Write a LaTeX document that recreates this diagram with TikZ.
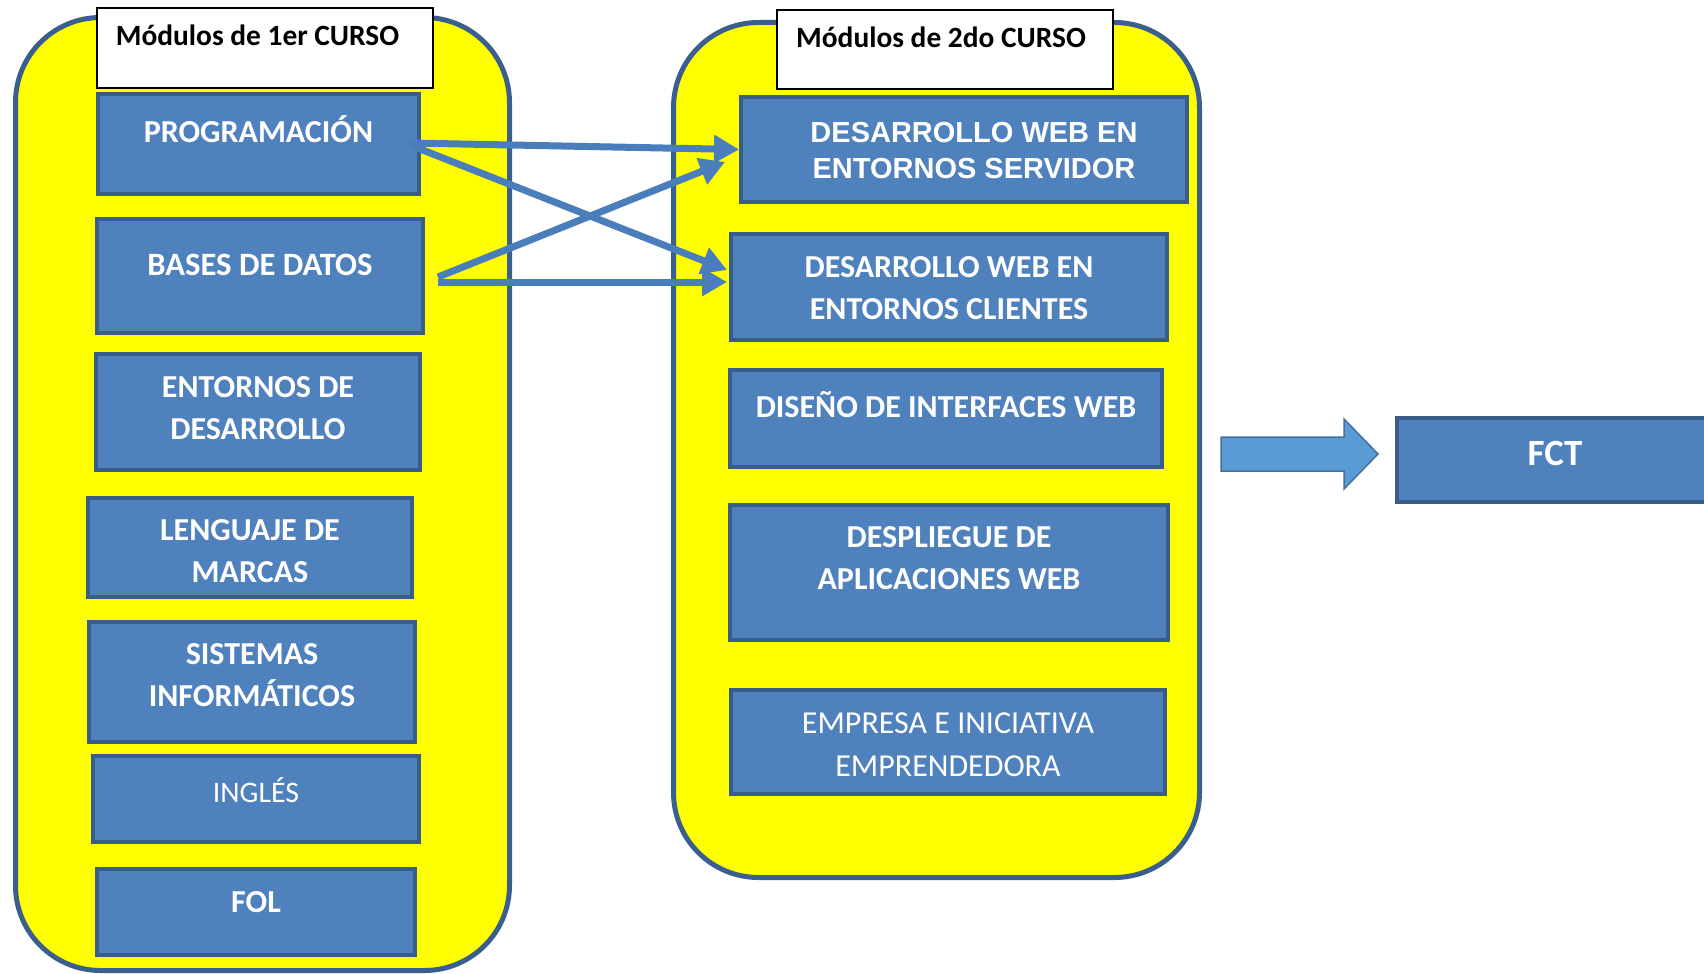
\documentclass[tikz,border=0pt]{standalone}
\usepackage{fontspec}
\setmainfont{Carlito}
\newfontfamily\arialf{Liberation Sans}
\usetikzlibrary{arrows.meta,calc}
\definecolor{contfill}{HTML}{FFFF00}
\definecolor{boxfill}{HTML}{4F81BD}
\definecolor{boxline}{HTML}{385D8A}
\definecolor{contline}{HTML}{3A5F8E}
\definecolor{arrcol}{HTML}{4A7EBB}
\definecolor{bigfill}{HTML}{5B9BD5}
\definecolor{bigline}{HTML}{41719C}
% #1 horizontal shift, #2 raise of first baseline above node centre, #3 text
\newcommand\tx[3]{\raisebox{#2}[0pt][0pt]{\makebox[0pt]{\kern#1\relax\kern#1\relax #3}}}
\newcommand\twol[2]{\vtop{\halign{\hfil##\hfil\cr #1\cr #2\cr}}}
\begin{document}
\begin{tikzpicture}[x=0.5pt,y=-0.5pt,
  cont/.style={draw=contline, line width=2.5pt, fill=contfill, rounded corners=42.5pt, inner sep=0pt},
  ttl/.style={draw=black, line width=1pt, fill=white, inner sep=0pt, font=\fontsize{14.7pt}{17pt}\selectfont\bfseries, text=black},
  mod/.style={draw=boxline, line width=2pt, fill=boxfill, inner sep=0pt, text=white, font=\fontsize{16pt}{21pt}\selectfont\bfseries},
  modr/.style={mod, font=\fontsize{16pt}{21.5pt}\selectfont\mdseries},
  moda/.style={mod, font=\arialf\fontsize{14.5pt}{17.5pt}\selectfont\bfseries},
  conn/.style={draw=arrcol, line width=3.5pt, -{Triangle[length=12.5pt,width=13.5pt]}},
]
\clip (0,0) rectangle (1704,974);
% containers
\node[cont, minimum width=247pt, minimum height=476.5pt] (year1) at (262.5,494) {};
\node[cont, minimum width=263pt, minimum height=427.5pt] (year2) at (936.5,450) {};
% titles
\node[ttl, minimum width=168pt, minimum height=40pt] (t1) at (265,48) {\tx{-3.75pt}{1pt}{Módulos de 1er CURSO}};
\node[ttl, minimum width=168pt, minimum height=39.5pt] (t2) at (945,49.5) {\tx{-2pt}{0.75pt}{Módulos de 2do CURSO}};
% first year
\node[mod, minimum width=160.5pt, minimum height=50pt] (prog) at (258.5,144) {\tx{0pt}{0.5pt}{PROGRAMACIÓN}};
\node[mod, minimum width=163pt, minimum height=57pt, font=\fontsize{16.3pt}{21pt}\selectfont\bfseries] (bd) at (260,276) {\tx{0pt}{0.5pt}{BASES DE DATOS}};
\node[mod, minimum width=162pt, minimum height=58pt] (ed) at (258,412) {\tx{0pt}{7.5pt}{\twol{ENTORNOS DE}{DESARROLLO}}};
\node[mod, minimum width=162pt, minimum height=49.5pt] (lm) at (250,547.5) {\tx{0pt}{3.75pt}{\twol{LENGUAJE DE}{MARCAS}}};
\node[mod, minimum width=163pt, minimum height=60pt] (si) at (252,682) {\tx{0pt}{9pt}{\twol{SISTEMAS}{INFORMÁTICOS}}};
\node[modr, minimum width=163pt, minimum height=43pt, font=\fontsize{14.9pt}{18pt}\selectfont\mdseries] (ing) at (256,799) {\tx{0pt}{-1.5pt}{INGLÉS}};
\node[mod, minimum width=159pt, minimum height=43pt] (fol) at (256,912) {\tx{0pt}{0pt}{FOL}};
% second year
\node[moda, minimum width=223pt, minimum height=52.5pt] (dwes) at (964,149.5) {\tx{5pt}{3.25pt}{\twol{DESARROLLO WEB EN}{ENTORNOS SERVIDOR}}};
\node[mod, minimum width=218pt, minimum height=53pt] (dwec) at (949,287) {\tx{0pt}{5pt}{\twol{DESARROLLO WEB EN}{ENTORNOS CLIENTES}}};
\node[mod, minimum width=216pt, minimum height=48.5pt] (diw) at (946,418.5) {\tx{0pt}{0.75pt}{DISEÑO DE INTERFACES WEB}};
\node[mod, minimum width=219pt, minimum height=67.5pt] (daw) at (949,572.5) {\tx{0pt}{12.75pt}{\twol{DESPLIEGUE DE}{APLICACIONES WEB}}};
\node[modr, minimum width=217pt, minimum height=52pt] (eie) at (948,742) {\tx{0pt}{4.5pt}{\twol{EMPRESA E INICIATIVA}{EMPRENDEDORA}}};
% FCT
\node[mod, minimum width=158pt, minimum height=42pt, font=\fontsize{18.5pt}{21pt}\selectfont\bfseries] (fct) at (1555,460) {\tx{0pt}{-2.5pt}{FCT}};
% block arrow
\draw[draw=bigline, fill=bigfill, line width=0.75pt] (1221,437) -- (1344,437) -- (1344,419) -- (1378,454) -- (1344,489) -- (1344,471) -- (1221,471) -- cycle;
% connectors
\draw[conn] ($(prog.east)+(-11,-1)$) -- (dwes.west);
\draw[conn] ($(prog.east)+(-6,3)$) -- ($(dwec.west)+(-2,-17)$);
\draw[conn] ($(bd.east)+(13,1)$) -- ($(dwes.west)+(-14,12.5)$);
\draw[conn] ($(bd.east)+(13,6)$) -- ($(dwec.west)+(-2,-5)$);
\end{tikzpicture}
\end{document}
